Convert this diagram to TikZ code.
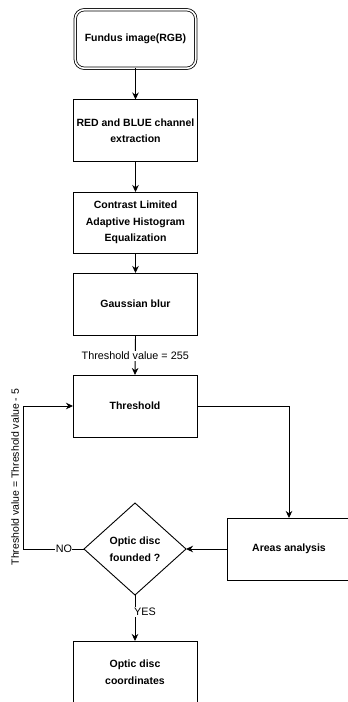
\documentclass[tikz,border=0pt]{standalone}
\usepackage{fontspec}
\setmainfont{Liberation Sans}
\usetikzlibrary{arrows.meta,shapes.geometric}
\begin{document}
\begin{tikzpicture}[x=1pt,y=-1pt,
  box/.style={draw, line width=0.9pt, minimum width=124pt, minimum height=62pt,
    inner sep=0pt, outer sep=0pt, align=center,
    font=\bfseries\fontsize{10.5}{16.5}\selectfont},
  startbox/.style={box, double, double distance=1.6pt, line width=0.8pt,
    rounded corners=9pt, minimum width=120.5pt, minimum height=58.5pt},
  decision/.style={draw, diamond, line width=0.9pt, minimum width=102pt,
    minimum height=92pt, aspect=1.1, inner sep=0pt, outer sep=0pt,
    align=center, font=\bfseries\fontsize{10.5}{16.5}\selectfont},
  lbl/.style={font=\fontsize{10.8}{13}\selectfont, fill=white, inner sep=1pt},
  arr/.style={draw, line width=0.9pt, -{Stealth[length=7pt,width=6.5pt,inset=2.2pt]}},
  ln/.style={draw, line width=0.9pt}]
\useasboundingbox (0,0) rectangle (348,702);
\fill[white] (0,0) rectangle (348,702);

\node[startbox] (fundus) at (135.5,39) {Fundus image(RGB)};
\node[box] (red) at (135.5,130.5) {RED and BLUE channel\\extraction};
\node[box, minimum height=61pt] (clahe) at (135.5,222.5) {Contrast Limited\\Adaptive Histogram\\Equalization};
\node[box] (gauss) at (135.5,304) {Gaussian blur};
\node[box] (thr) at (135,406) {Threshold};
\node[box] (area) at (289,549) {Areas analysis};
\node[decision] (dec) at (135,549) {Optic disc\\founded ?};
\node[box] (coord) at (135,672) {Optic disc\\coordinates};
\coordinate (cl) at (23,549);
\coordinate (cu) at (23,406);

\draw[arr] (fundus.south) -- (red.north);
\draw[arr] (red.south) -- (clahe.north);
\draw[arr] (clahe.south) -- (gauss.north);
\draw[arr] (gauss.south) -- node[lbl, pos=0.52] (l255) {Threshold value = 255} (thr.north);
\draw[arr] (thr.east) -| (area.north);
\draw[arr] (area.west) -- (dec.east);
\draw[arr] (dec.south) -- node[lbl, pos=0.37, xshift=10pt] (lyes) {YES} (coord.north);
\draw[ln] (dec.west) -- node[lbl, pos=0.33, inner sep=0.5pt] (lno) {NO} (cl);
\draw[arr] (cl) -- (cu) -- (thr.west);
\node[font=\fontsize{10.5}{13}\selectfont, rotate=90] (lrot) at (15,477) {Threshold value = Threshold value - 5};
\end{tikzpicture}
\end{document}
